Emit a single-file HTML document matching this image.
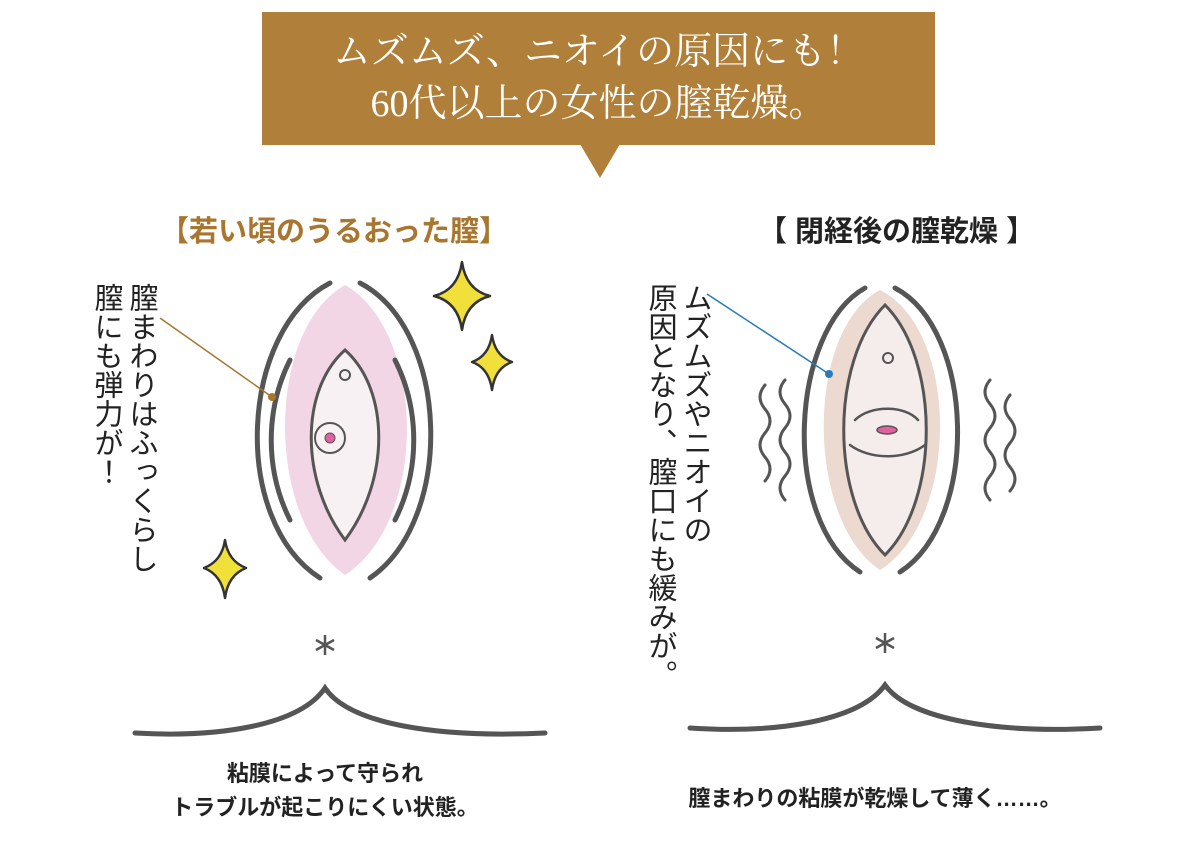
<!DOCTYPE html>
<html><head><meta charset="utf-8"><style>
html,body{margin:0;padding:0;background:#fff;}
body{width:1200px;height:845px;position:relative;overflow:hidden;font-family:"Liberation Sans","Noto Sans CJK JP",sans-serif;}
.banner{position:absolute;left:262px;top:12px;width:673px;height:133px;background:#b07f3a;color:#fff;font-family:"Liberation Serif","Noto Serif CJK SC",serif;font-size:38px;line-height:52px;text-align:center;padding-top:14px;box-sizing:border-box;}
.tri{position:absolute;left:580px;top:144px;width:0;height:0;border-left:20px solid transparent;border-right:20px solid transparent;border-top:34px solid #b07f3a;}
.t{position:absolute;font-weight:bold;font-size:29px;white-space:nowrap;}
.v{position:absolute;writing-mode:vertical-rl;font-size:29px;line-height:35px;color:#222;white-space:nowrap;}
.cap{position:absolute;font-weight:bold;font-size:22px;color:#222;text-align:center;white-space:nowrap;line-height:34px;}
svg{position:absolute;left:0;top:0;}
</style></head><body>
<div class="banner">ムズムズ、ニオイの原因にも！<br>60代以上の女性の膣乾燥。</div>
<div class="tri"></div>
<div class="t" style="left:160px;top:208px;color:#a8762e;">【若い頃のうるおった膣】</div>
<div class="t" style="left:758px;top:208px;color:#222;">【 閉経後の膣乾燥 】</div>
<div class="v" style="left:88px;top:283px;">膣まわりはふっくらし<br>膣にも弾力が！</div>
<div class="v" style="left:642px;top:283px;">ムズムズやニオイの<br>原因となり、膣口にも緩みが。</div>
<svg width="1200" height="845" viewBox="0 0 1200 845">
<g fill="none" stroke="#555" stroke-width="5" stroke-linecap="round">
<path d="M345 285 C425 330 430 520 345 575 C265 520 265 330 345 285Z" fill="#f3d6e6" stroke="none"/>
<path d="M330 283 C240 330 230 520 320 578"/>
<path d="M360 283 C450 330 455 520 370 578"/>
<path d="M290 360 C265 410 265 470 290 520"/>
<path d="M395 360 C420 410 420 470 395 520"/>
<path d="M345 350 C300 390 300 480 345 540 C390 480 390 390 345 350Z" fill="#f7f1f4" stroke-width="3"/>
<circle cx="345" cy="375" r="5" stroke-width="2"/>
<circle cx="330" cy="438" r="15" stroke-width="2"/>
<circle cx="330" cy="438" r="5" fill="#e060a0" stroke-width="1"/>
<path d="M880 290 C960 330 960 520 880 570 C805 520 805 330 880 290Z" fill="#ecd9cf" stroke="none"/>
<path d="M865 288 C790 330 780 520 860 572"/>
<path d="M895 288 C975 330 980 520 900 572"/>
<path d="M885 305 C940 360 940 500 885 555 C830 500 830 360 885 305Z" fill="#f5ecec" stroke-width="3"/>
<circle cx="888" cy="358" r="5" stroke-width="2"/>
<path d="M855 420 C870 405 905 405 918 420" stroke-width="2.5"/>
<path d="M850 445 C870 460 905 460 925 445" stroke-width="2.5"/>
<ellipse cx="887" cy="430" rx="10" ry="4" fill="#e060a0" stroke-width="1.5"/>
<path d="M765 385 q-10 12 0 24 q10 12 0 24 q-10 12 0 24 q10 12 0 24" stroke-width="3"/>
<path d="M785 380 q-10 12 0 24 q10 12 0 24 q-10 12 0 24 q10 12 0 24 q-10 12 0 24" stroke-width="3"/>
<path d="M990 380 q-10 12 0 24 q10 12 0 24 q-10 12 0 24 q10 12 0 24 q-10 12 0 24" stroke-width="3"/>
<path d="M1010 395 q-10 12 0 24 q10 12 0 24 q-10 12 0 24 q10 12 0 24" stroke-width="3"/>
<path d="M135 733 C220 738 300 725 325 688 C350 725 440 738 545 733"/>
<path d="M690 728 C780 734 860 720 885 685 C910 720 1000 734 1100 728"/>
</g>
<g stroke="#555" stroke-width="2.5">
<path d="M325 635v20M316 640l18 10M316 650l18-10"/>
<path d="M885 633v20M876 638l18 10M876 648l18-10"/>
</g>
<line x1="160" y1="318" x2="272" y2="397" stroke="#a8762e" stroke-width="1.5"/>
<circle cx="272" cy="397" r="4" fill="#a8762e"/>
<line x1="707" y1="294" x2="829" y2="374" stroke="#2a7ab8" stroke-width="1.5"/>
<circle cx="829" cy="374" r="4" fill="#2a7ab8"/>
<g fill="#f2e03a" stroke="#333" stroke-width="2.5" stroke-linejoin="round">
<path d="M462 262 Q466 290 490 296 Q466 302 462 330 Q458 302 434 296 Q458 290 462 262Z"/>
<path d="M492 335 Q495 356 512 362 Q495 368 492 390 Q489 368 472 362 Q489 356 492 335Z"/>
<path d="M225 540 Q228 561 246 568 Q228 575 225 598 Q222 575 204 568 Q222 561 225 540Z"/>
</g>
</svg>
<div class="cap" style="left:150px;top:757px;width:350px;">粘膜によって守られ<br>トラブルが起こりにくい状態。</div>
<div class="cap" style="left:660px;top:782px;width:430px;">膣まわりの粘膜が乾燥して薄く……。</div>
</body></html>
